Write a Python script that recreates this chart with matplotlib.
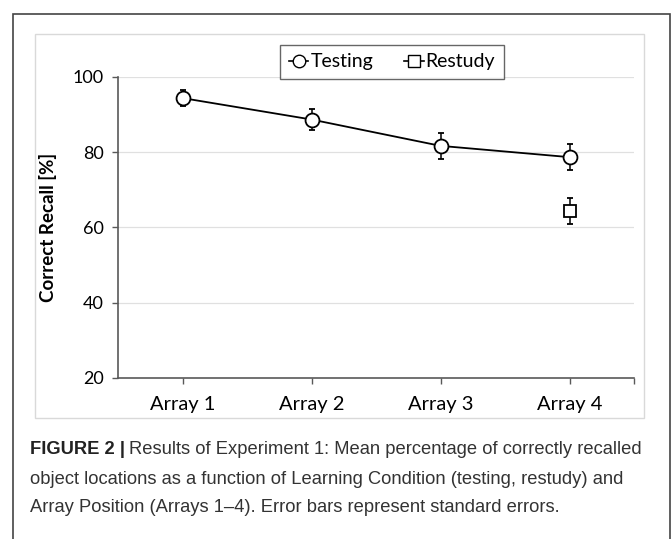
import matplotlib
matplotlib.use("Agg")
import matplotlib.pyplot as plt
from matplotlib.patches import Rectangle
from matplotlib.lines import Line2D

# --- Data ------------------------------------------------------------------
categories = ["Array 1", "Array 2", "Array 3", "Array 4"]
testing_mean = [94.4, 88.7, 81.7, 78.7]
testing_se = [2.2, 2.7, 3.4, 3.5]
restudy_pos = [3]
restudy_mean = [64.4]
restudy_se = [3.5]
yticks = [20, 40, 60, 80, 100]

CHART_FONT = ["Lato", "DejaVu Sans"]
CAPTION_FONT = ["Liberation Sans Narrow", "Liberation Sans", "DejaVu Sans"]
FS = 14

W, H = 672, 539
fig = plt.figure(figsize=(W / 100, H / 100), dpi=100)


def fx(px):
    return px / W


def fy(py):
    return 1 - py / H


# outer frame of the figure panel (runs off the bottom)
fig.patches.append(Rectangle((fx(13), fy(560)), fx(670) - fx(13), fy(14) - fy(560),
                             transform=fig.transFigure, fill=False,
                             edgecolor="#444444", lw=1.2))
# light inner chart box
fig.patches.append(Rectangle((fx(35), fy(418)), fx(644) - fx(35), fy(34) - fy(418),
                             transform=fig.transFigure, fill=False,
                             edgecolor="#d9d9d9", lw=1.0))

ax = fig.add_axes([fx(118), fy(378), fx(634) - fx(118), fy(77) - fy(378)])
x = list(range(len(categories)))

ax.errorbar(x, testing_mean, yerr=testing_se, color="black", lw=1.3,
            marker="o", ms=10, mfc="white", mec="black", mew=1.3,
            ecolor="black", elinewidth=1.1, capsize=2, capthick=1.1, zorder=3)
ax.errorbar(restudy_pos, restudy_mean, yerr=restudy_se, color="black", lw=0,
            marker="s", ms=9, mfc="white", mec="black", mew=1.3,
            ecolor="black", elinewidth=1.1, capsize=2, capthick=1.1, zorder=3)

ax.set_xlim(-0.5, 3.5)
ax.set_ylim(20, 100)
ax.set_yticks(yticks)
ax.set_xticks(x)
ax.set_xticks([3.5], minor=True)
ax.set_xticklabels(categories, family=CHART_FONT, fontsize=14.5)
ax.set_yticklabels([str(v) for v in yticks], family=CHART_FONT, fontsize=13)
ax.yaxis.grid(True, color="#e0e0e0", lw=0.9)
ax.set_axisbelow(True)
for s in ["top", "right"]:
    ax.spines[s].set_visible(False)
for s in ["left", "bottom"]:
    ax.spines[s].set_color("#595959")
    ax.spines[s].set_linewidth(1.2)
ax.tick_params(axis="both", which="both", color="#595959", length=4, width=1.0, pad=6)
ax.tick_params(axis="x", pad=9)
ax.set_ylabel("Correct Recall [%]", family=CHART_FONT, fontsize=13.5,
              fontweight="bold")
ax.yaxis.set_label_coords((57 - 118) / 516, 0.5)

handles = [
    Line2D([], [], color="black", lw=1.2, marker="o", ms=9, mfc="white", mec="black"),
    Line2D([], [], color="black", lw=1.2, marker="s", ms=9, mfc="white", mec="black"),
]
leg = fig.legend(handles, ["Testing", "Restudy"], loc="center",
                 bbox_to_anchor=(fx(392), fy(62)), ncol=2, frameon=True,
                 fancybox=False, edgecolor="#404040", handlelength=1.0,
                 handletextpad=0.1, columnspacing=1.6,
                 prop={"family": CHART_FONT, "size": FS},
                 borderpad=0.45, borderaxespad=0)
leg.get_frame().set_linewidth(1.0)

# caption with bold lead-in
fig.canvas.draw()
r = fig.canvas.get_renderer()
lead = fig.text(fx(30), fy(450), "FIGURE 2 |", family=CAPTION_FONT, fontsize=13.2,
                fontweight="bold", va="center", color="#222222")
bb = lead.get_window_extent(renderer=r)
fig.text(bb.x1 / W + fx(4), fy(450),
         "Results of Experiment 1: Mean percentage of correctly recalled",
         family=CAPTION_FONT, fontsize=13.2, va="center", color="#333333")
fig.text(fx(30), fy(479),
         "object locations as a function of Learning Condition (testing, restudy) and",
         family=CAPTION_FONT, fontsize=13.2, va="center", color="#333333")
fig.text(fx(30), fy(507),
         "Array Position (Arrays 1\u20134). Error bars represent standard errors.",
         family=CAPTION_FONT, fontsize=13.2, va="center", color="#333333")

fig.savefig("out.png", dpi=100)
